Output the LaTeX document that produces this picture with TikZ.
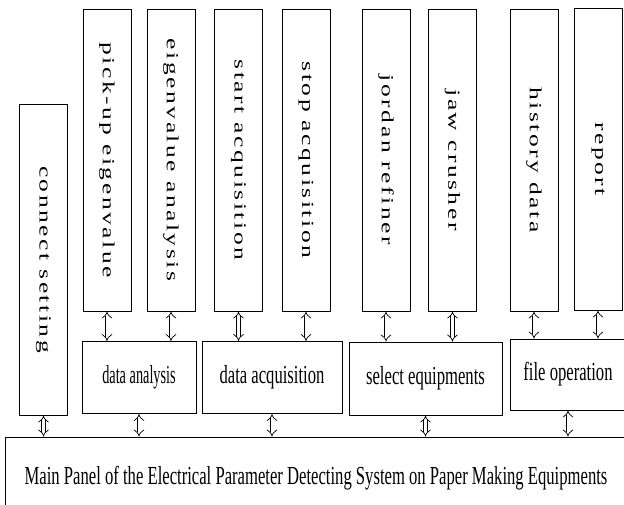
\documentclass[tikz,border=0pt]{standalone}
\usepackage{graphicx}
\usepackage{fontspec}
\setmainfont{Liberation Serif}
\newfontfamily\spacedfont[FakeStretch=1.5, LetterSpace=15]{Liberation Serif}
\newfontfamily\condfont[FakeStretch=0.64]{Liberation Serif}
\newfontfamily\narrowfont[FakeStretch=0.55]{Liberation Serif}
\usetikzlibrary{arrows.meta, positioning}

\begin{document}
\begin{tikzpicture}[
	x=1pt, y=-1pt,
	ColBox/.style={draw, line width=0.9pt, inner sep=0pt, minimum width=48pt,
		minimum height=302pt, font=\spacedfont\fontsize{17}{17}\selectfont},
	GroupBox/.style={draw, line width=0.9pt, inner sep=0pt, minimum height=72pt,
		font=\condfont\fontsize{26}{26}\selectfont},
	DblArrow/.style={double, double distance=3pt, line width=0.7pt,
		{Implies[scale=1.3]}-{Implies[scale=1.3]}}
	]

\clip (0,0) rectangle (624,504);

% upper row of functions
\node [ColBox, minimum height=311pt] (conn) at (43.5,259.5) {\rotatebox{-90}{connect setting}};
\node [ColBox] (pick) at (107,160) {\rotatebox{-90}{pick-up eigenvalue}};
\node [ColBox] (eig) at (171,160) {\rotatebox{-90}{eigenvalue analysis}};
\node [ColBox] (start) at (238.5,160) {\rotatebox{-90}{start acquisition}};
\node [ColBox] (stop) at (306,160) {\rotatebox{-90}{stop acquisition}};
\node [ColBox] (jordan) at (386,160) {\rotatebox{-90}{jordan refiner}};
\node [ColBox] (jaw) at (452.5,160) {\rotatebox{-90}{jaw crusher}};
\node [ColBox] (hist) at (534,160) {\rotatebox{-90}{history data}};
\node [ColBox] (report) at (598,159) {\rotatebox{-90}{report}};

% groups
\node [GroupBox, minimum width=114pt, font=\narrowfont\fontsize{26}{26}\selectfont] (ana) at (139,377.5) {data analysis};
\node [GroupBox, minimum width=140pt] (acq) at (272,377.5) {data acquisition};
\node [GroupBox, minimum width=153pt, minimum height=73pt] (sel) at (425.5,378.5) {select equipments};
\node [GroupBox, minimum width=116pt, minimum height=71pt] (file) at (568,374.5) {file operation};

% main panel
\node [GroupBox, minimum width=622pt, minimum height=82pt] (main) at (316,478)
	{Main Panel of the Electrical Parameter Detecting System on Paper Making Equipments};

\draw [DblArrow] (pick.south) -- (pick.south |- ana.north);
\draw [DblArrow] (eig.south) -- (eig.south |- ana.north);
\draw [DblArrow] (start.south) -- (start.south |- acq.north);
\draw [DblArrow] (stop.south) -- (stop.south |- acq.north);
\draw [DblArrow] (jordan.south) -- (jordan.south |- sel.north);
\draw [DblArrow] (jaw.south) -- (jaw.south |- sel.north);
\draw [DblArrow] (hist.south) -- (hist.south |- file.north);
\draw [DblArrow] (report.south) -- (report.south |- file.north);

\draw [DblArrow] (conn.south) -- (conn.south |- main.north);
\draw [DblArrow] (ana.south) -- (ana.south |- main.north);
\draw [DblArrow] (acq.south) -- (acq.south |- main.north);
\draw [DblArrow] (sel.south) -- (sel.south |- main.north);
\draw [DblArrow] (file.south) -- (file.south |- main.north);

\end{tikzpicture}
\end{document}
